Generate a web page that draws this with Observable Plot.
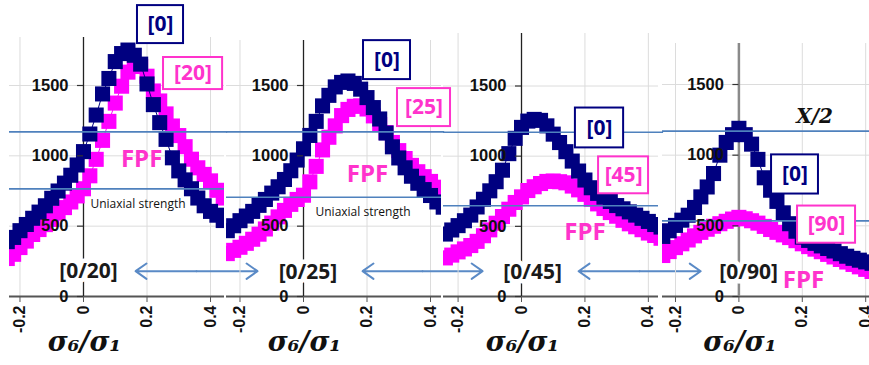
<!DOCTYPE html>
<html>
<head>
<meta charset="utf-8">
<script src="https://cdn.jsdelivr.net/npm/d3@7"></script>
<script src="https://cdn.jsdelivr.net/npm/@observablehq/plot@0.6"></script>
<style>
  body { margin: 0; background: #fff; }
  #chart { position: relative; width: 869px; height: 365px; overflow: hidden; background: #fff; }
</style>
</head>
<body>
<div id="chart"></div>
<script>
// ---------- data ----------
const sigma = [-0.24,-0.22,-0.2,-0.18,-0.16,-0.14,-0.12,-0.1,-0.08,-0.06,-0.04,-0.02,0,0.02,0.04,0.06,0.08,0.1,0.12,0.14,0.16,0.18,0.2,0.22,0.24,0.26,0.28,0.3,0.32,0.34,0.36,0.38,0.4,0.42,0.44];

// [0/20] laminate
const l20_ply0  = [390,420,468,512,556,600,645,698,750,806,862,935,1030,1155,1290,1440,1550,1670,1727,1752,1715,1652,1511,1364,1236,1117,986,893,829,766,700,645,605,578,540];
const l20_plyA  = [270,300,348,394,441,476,511,548,593,632,672,715,766,858,975,1110,1245,1375,1495,1595,1645,1635,1566,1461,1390,1298,1212,1144,1065,976,915,868,822,755,700];
// [0/25] laminate
const l25_ply0  = [468,503,539,572,605,648,690,735,780,832,894,970,1050,1145,1245,1355,1430,1490,1522,1532,1515,1474,1414,1343,1262,1162,1064,985,915,855,805,760,718,672,635];
const l25_plyA  = [305,328,350,378,407,443,480,522,566,612,655,690,720,815,925,1042,1132,1213,1286,1330,1352,1355,1333,1284,1223,1165,1095,1037,981,932,887,852,818,777,745];
// [0/45] laminate
const l45_ply0  = [445,474,505,540,580,638,693,753,818,900,1018,1127,1205,1250,1262,1255,1216,1157,1097,1032,965,894,830,775,735,708,677,648,625,603,580,557,535,513,495];
const l45_plyA  = [275,295,318,339,363,393,433,475,522,570,622,670,710,755,782,805,820,823,818,810,787,760,728,693,660,627,598,572,543,518,497,476,452,435,415];
// [0/90] laminate
const l90_ply0  = [425,465,503,540,575,630,705,775,870,1000,1090,1145,1190,1145,1078,970,840,752,673,592,515,462,420,397,376,358,340,322,303,285,270,257,245,235,225];
const l90_plyA  = [290,318,346,373,400,429,454,476,497,515,532,548,560,550,536,519,496,474,454,436,417,395,373,353,335,317,298,280,262,244,227,210,192,177,165];

const layups      = ["[0/20]", "[0/25]", "[0/45]", "[0/90]"];
const plyLabels   = ["[20]", "[25]", "[45]", "[90]"];
const zeroLabel   = "[0]";
const halfX       = 1170;                 // X/2 level
const uniaxial    = [765, 706, 647, 535]; // uniaxial strength of each laminate
const xTicks      = [-0.2, 0, 0.2, 0.4];
const yTicks      = [0, 500, 1000, 1500];
const yGrid       = [500, 1000, 1500];
const axisTitle   = "σ₆/σ₁";

const series = [
  {ply0: l20_ply0, plyA: l20_plyA},
  {ply0: l25_ply0, plyA: l25_plyA},
  {ply0: l45_ply0, plyA: l45_plyA},
  {ply0: l90_ply0, plyA: l90_plyA}
];

// ---------- layout / styles ----------
const NAVY = "#000080", MAG = "#ff00ff", MAGTXT = "#ff33cc", BLUE = "#4f81bd";
const LABEL_FONT = "'Open Sans', Lato, sans-serif";
const frames = [
  {left: 9,   width: 215, xd: [-0.233, 0.444],  top: 37, y1500: 85,   ext: 0.01,  axis: "#222", axisW: 1.3},
  {left: 226, width: 215, xd: [-0.2425, 0.4346], top: 40, y1500: 85,  ext: 0.01,  axis: "#222", axisW: 1.3},
  {left: 443, width: 215, xd: [-0.246, 0.432],  top: 33, y1500: 85.5, ext: 0.016, axis: "#222", axisW: 1.3},
  {left: 662, width: 207, xd: [-0.241, 0.412],  top: 43, y1500: 84,   ext: 0,     axis: "#8a8a8a", axisW: 2.5}
];

// annotation placement (data coordinates of each panel)
const notes = [
  { zeroBox: [0.170, 0.315, 2068, 1798], zeroTxt: [0.2425, 1933],
    plyBox: [0.252, 0.438, 1699, 1471], plyTxt: [0.345, 1585],
    fpf: [0.183, 974], uni: [0.022, 654], layup: [0.0157, 178], arrow: [0.164, 0.548] },
  { zeroBox: [0.189, 0.337, 1819, 1542], zeroTxt: [0.263, 1681],
    plyBox: [0.296, 0.463, 1478, 1208], plyTxt: [0.3795, 1343],
    fpf: [0.2016, 867], uni: [0.0378, 600], layup: [0.014, 172], arrow: [0.186, 0.564] },
  { zeroBox: [0.170, 0.322, 1343, 1059], zeroTxt: [0.246, 1201],
    plyBox: [0.243, 0.4006, 995, 732], plyTxt: [0.322, 863],
    fpf: [0.200, 455], uni: null, layup: [0.035, 172], arrow: [0.18, 0.565] },
  { zeroBox: [0.103, 0.251, 1002, 725], zeroTxt: [0.177, 864],
    plyBox: [0.185, 0.368, 640, 377], plyTxt: [0.2767, 508],
    fpf: [0.204, 114], uni: null, layup: [0.0306, 172], arrow: null, half: [0.239, 1276] }
];

function box(b, color) {
  return Plot.rect([b], {x1: d => d[0], x2: d => d[1], y1: d => d[2], y2: d => d[3],
    fill: "white", stroke: color, strokeWidth: 2});
}
function label(p, text, opts) {
  return Plot.text([p], Object.assign({x: d => d[0], y: d => d[1], text: () => text,
    fontFamily: LABEL_FONT, fontWeight: "bold", fontSize: 21}, opts));
}

function panel(i) {
  const f = frames[i], s = series[i], n = notes[i];
  const marks = [
    Plot.ruleX(xTicks, {stroke: "#dcdcdc", strokeWidth: 1}),
    Plot.ruleY(yGrid, {stroke: "#dcdcdc", strokeWidth: 1}),
    Plot.ruleY([0], {stroke: "#555", strokeWidth: 2}),
    Plot.ruleX([0], {stroke: f.axis, strokeWidth: f.axisW}),
    Plot.line(sigma, {x: d => d, y: (d, k) => s.plyA[k], stroke: MAG, strokeWidth: 1, clip: true}),
    Plot.dot(sigma, {x: d => d, y: (d, k) => s.plyA[k], symbol: "square", r: 8.5, fill: MAG, clip: true}),
    Plot.line(sigma, {x: d => d, y: (d, k) => s.ply0[k], stroke: NAVY, strokeWidth: 1, clip: true}),
    Plot.dot(sigma, {x: d => d, y: (d, k) => s.ply0[k], symbol: "square", r: 8.5, fill: NAVY, clip: true}),
    Plot.ruleY([halfX], {x1: f.xd[0], x2: f.xd[1] + f.ext, stroke: BLUE, strokeWidth: 1.6}),
    Plot.ruleY([uniaxial[i]], {stroke: BLUE, strokeWidth: 1.6}),
    Plot.axisX(xTicks, {tickRotate: -90, tickSize: 6, tickPadding: 3, tickFormat: d => String(d),
      fontWeight: "bold", fontSize: 16, fill: "#111", stroke: "#555", label: null}),
    Plot.ruleY(yTicks, {x1: -0.019, x2: 0, stroke: "#333", strokeWidth: 1.2}),
    Plot.text(yTicks, {x: 0, y: d => d, text: d => String(d), dx: -15, textAnchor: "end",
      fontWeight: "bold", fontSize: 16.5, fill: "#111"}),
    box(n.zeroBox, NAVY),
    label(n.zeroTxt, zeroLabel, {fill: NAVY}),
    box(n.plyBox, MAGTXT),
    label(n.plyTxt, plyLabels[i], {fill: MAGTXT}),
    label(n.fpf, "FPF", {fill: MAGTXT, fontSize: 24}),
    label(n.layup, layups[i], {fill: "#1a1a1a", stroke: "white", strokeWidth: 9, paintOrder: "stroke"}),
    Plot.text([{x: 0, t: axisTitle}], {x: "x", text: "t", frameAnchor: "bottom", dy: 54, dx: 1,
      fontFamily: "'DejaVu Serif', serif", fontStyle: "italic", fontWeight: "bold", fontSize: 27, fill: "#111"})
  ];
  if (n.uni) marks.push(label(n.uni, "Uniaxial strength", {fontWeight: "normal", fontSize: 12, textAnchor: "start", fill: "#111"}));
  if (n.half) marks.push(label(n.half, "X/2", {fontFamily: "'DejaVu Serif', serif", fontStyle: "italic", fontSize: 20, fill: "#111"}));
  if (n.arrow) {
    const mid = (n.arrow[0] + n.arrow[1]) / 2;
    marks.push(Plot.arrow([[mid, n.arrow[0]], [mid, n.arrow[1]]], {x1: d => d[0], x2: d => d[1], y1: 180, y2: 180,
      stroke: "#5a8ac6", strokeWidth: 2, headLength: 10, headAngle: 70}));
  }
  return Plot.plot({
    width: f.width, height: 365,
    marginTop: f.top, marginBottom: 69, marginLeft: 0, marginRight: 0,
    x: {domain: f.xd, axis: null},
    y: {domain: [0, 1500], range: [296, f.y1500], axis: null},
    style: {position: "absolute", left: f.left + "px", top: "0px", overflow: "visible",
      background: "none", fontFamily: "'Liberation Sans', Arial, sans-serif", maxWidth: "none"},
    marks
  });
}

const chart = document.getElementById("chart");
for (let i = 0; i < 4; i++) chart.appendChild(panel(i));
</script>
</body>
</html>
